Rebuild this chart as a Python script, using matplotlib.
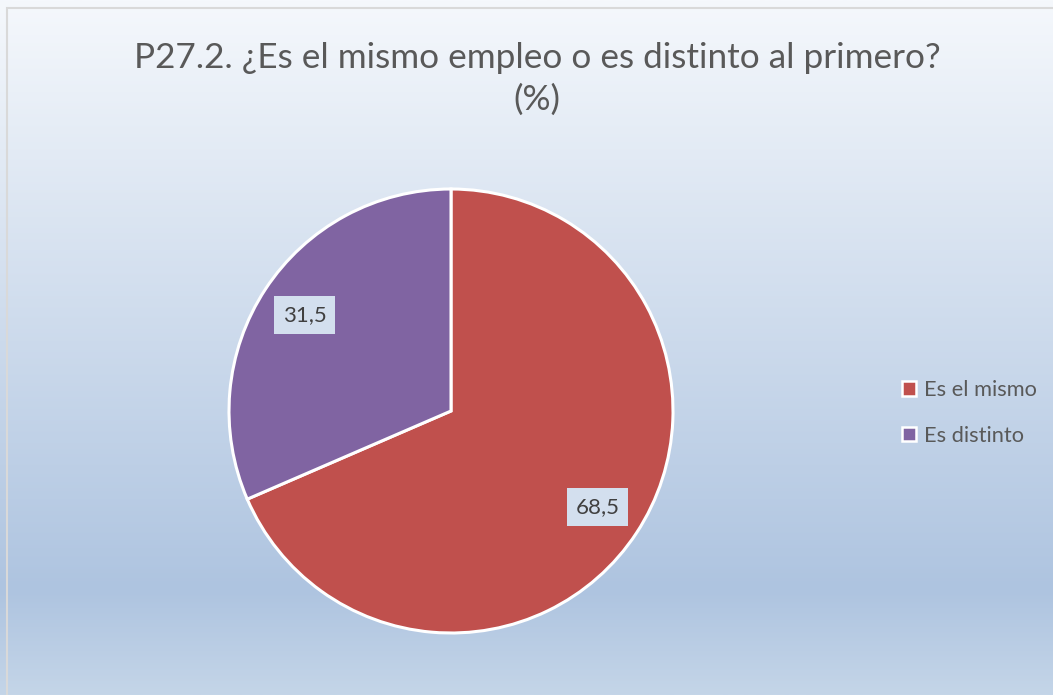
import matplotlib.pyplot as plt
import numpy as np
from matplotlib.colors import LinearSegmentedColormap
from matplotlib.patches import Rectangle

# datos
categorias = ['Es el mismo', 'Es distinto']
valores = [68.5, 31.5]
colores = ['#C0504D', '#8064A2']
titulo = ['P27.2. ¿Es el mismo empleo o es distinto al primero?', '(%)']

plt.rcParams['font.family'] = ['Lato', 'DejaVu Sans']

W, H = 1053, 695
fig = plt.figure(figsize=(W / 100, H / 100), dpi=100)

# fondo con degradado
bg = fig.add_axes([0, 0, 1, 1], zorder=-10)
grad = LinearSegmentedColormap.from_list(
    'fondo', [(0.0, '#F5F8FC'), (0.85, '#AEC4E0'), (1.0, '#C4D5E8')])
bg.imshow(np.linspace(0, 1, 256).reshape(-1, 1), aspect='auto', cmap=grad,
          extent=[0, 1, 0, 1], origin='upper')
bg.add_patch(Rectangle((7 / W, -0.05), 1.1, 1 - 8 / H + 0.05,
                       fill=False, edgecolor='#D9D9D9', linewidth=1.5,
                       transform=bg.transAxes))
bg.set_xlim(0, 1)
bg.set_ylim(0, 1)
bg.axis('off')

# tarta
ax = fig.add_axes([229 / W, (H - 633) / H, 444 / W, 444 / H])
wedges, textos, autotextos = ax.pie(
    valores, colors=colores, startangle=90, counterclock=False,
    wedgeprops=dict(edgecolor='white', linewidth=2.2),
    autopct=lambda p: f'{p:.1f}'.replace('.', ','), pctdistance=0.79,
    textprops=dict(fontsize=16, color='#404040'))
for t in autotextos:
    t.set_bbox(dict(boxstyle='square,pad=0.4', facecolor='#D3DFEE',
                    edgecolor='none'))
ax.set_xlim(-1, 1)
ax.set_ylim(-1, 1)
ax.set_aspect('equal')

fig.text(537 / W, 1 - 58 / H, titulo[0], ha='center', va='center',
         fontsize=25.3, color='#595959')
fig.text(537 / W, 1 - 100 / H, titulo[1], ha='center', va='center',
         fontsize=25.3, color='#595959')

leg = fig.legend(wedges, categorias, loc='center left',
                 bbox_to_anchor=(902 / W, 1 - 413 / H), frameon=False,
                 borderpad=0, borderaxespad=0,
                 fontsize=15.7, labelcolor='#595959', handlelength=0.65,
                 handleheight=0.65, handletextpad=0.35, labelspacing=1.17)
for h in leg.legend_handles:
    h.set_edgecolor('white')
    h.set_linewidth(1.8)

fig.savefig('out.png', dpi=100)
